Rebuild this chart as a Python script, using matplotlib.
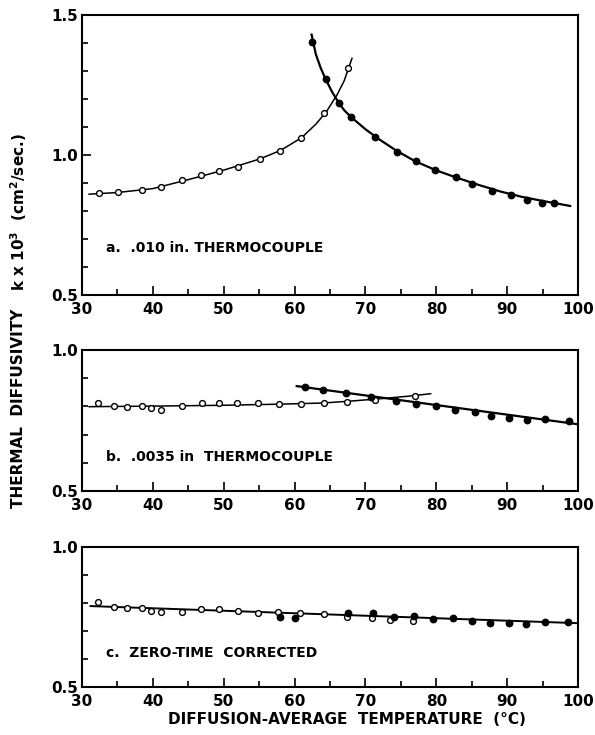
import matplotlib
matplotlib.use("Agg")
import matplotlib.pyplot as plt
from matplotlib.ticker import MultipleLocator

plt.rcParams['font.family'] = ['DejaVu Sans']
plt.rcParams['font.weight'] = 'bold'

# ---- panel a: .010 in thermocouple ----
a_open_x = [32.4, 35.1, 38.5, 41.2, 44.1, 46.8, 49.3, 52.0, 55.1, 57.9, 60.9, 64.1, 67.6]
a_open_y = [0.863, 0.868, 0.875, 0.886, 0.910, 0.929, 0.944, 0.958, 0.986, 1.015, 1.060, 1.149, 1.310]
a_fill_x = [62.5, 64.4, 66.2, 68.0, 71.3, 74.4, 77.1, 79.8, 82.8, 85.1, 87.9, 90.6, 92.8, 94.9, 96.6]
a_fill_y = [1.405, 1.271, 1.185, 1.137, 1.063, 1.012, 0.977, 0.946, 0.923, 0.896, 0.871, 0.856, 0.839, 0.827, 0.827]
# fitted curves
a_open_fit_x = [31.0, 35, 40, 45, 50, 55, 58, 61, 63, 64.5, 66, 67, 68.1]
a_open_fit_y = [0.860, 0.866, 0.880, 0.912, 0.946, 0.985, 1.016, 1.062, 1.110, 1.155, 1.215, 1.265, 1.345]
a_fill_fit_x = [62.4, 63, 63.7, 64.4, 65.3, 66.2, 67, 68, 70, 72, 74.4, 77, 80, 83, 86, 89, 92, 95, 98.9]
a_fill_fit_y = [1.43, 1.36, 1.31, 1.27, 1.225, 1.188, 1.16, 1.135, 1.092, 1.055, 1.015, 0.978, 0.945,
                0.918, 0.893, 0.870, 0.851, 0.836, 0.818]

# ---- panel b: .0035 in thermocouple ----
b_open_x = [32.2, 34.5, 36.4, 38.5, 39.8, 41.2, 44.1, 46.9, 49.4, 51.9, 54.8, 57.8, 60.9, 64.1, 67.4, 71.4, 77.0]
b_open_y = [0.811, 0.802, 0.798, 0.802, 0.793, 0.788, 0.802, 0.811, 0.811, 0.811, 0.811, 0.809, 0.807,
            0.811, 0.817, 0.822, 0.836]
b_fill_x = [61.5, 64.0, 67.2, 70.8, 74.3, 77.2, 79.9, 82.7, 85.4, 87.7, 90.3, 92.8, 95.4, 98.7]
b_fill_y = [0.868, 0.858, 0.848, 0.834, 0.820, 0.810, 0.800, 0.789, 0.781, 0.765, 0.760, 0.751, 0.756, 0.748]
b_open_fit_x = [31, 40, 50, 58, 64, 68, 72, 76, 79.2]
b_open_fit_y = [0.799, 0.801, 0.804, 0.808, 0.812, 0.819, 0.827, 0.836, 0.845]
b_fill_fit_x = [60.3, 99.9]
b_fill_fit_y = [0.872, 0.737]

# ---- panel c: zero-time corrected ----
c_open_x = [32.2, 34.5, 36.4, 38.5, 39.8, 41.2, 44.1, 46.8, 49.4, 52.0, 54.8, 57.6, 60.7, 64.1, 67.4, 70.9, 73.4, 76.7]
c_open_y = [0.805, 0.785, 0.781, 0.781, 0.773, 0.768, 0.768, 0.778, 0.778, 0.773, 0.763, 0.768, 0.763,
            0.761, 0.749, 0.745, 0.739, 0.736]
c_fill_x = [58.0, 60.1, 67.6, 71.0, 74.1, 76.9, 79.6, 82.4, 85.1, 87.6, 90.2, 92.7, 95.4, 98.6]
c_fill_y = [0.751, 0.748, 0.763, 0.763, 0.751, 0.754, 0.742, 0.745, 0.737, 0.728, 0.728, 0.724, 0.731, 0.731]
c_fit_x = [31.2, 99.9]
c_fit_y = [0.789, 0.728]

panel_labels = ["a.  .010 in. THERMOCOUPLE",
                "b.  .0035 in  THERMOCOUPLE",
                "c.  ZERO-TIME  CORRECTED"]
x_ticks = [30, 40, 50, 60, 70, 80, 90, 100]

fig = plt.figure(figsize=(5.95, 7.35), dpi=100)
W, H = 595.0, 735.0
left, right = 82 / W, 578 / W


def make_ax(top_px, bot_px):
    return fig.add_axes([left, 1 - bot_px / H, right - left, (bot_px - top_px) / H])


ax_a = make_ax(15, 295)
ax_b = make_ax(350, 491)
ax_c = make_ax(547, 687)

for ax in (ax_a, ax_b, ax_c):
    ax.set_xlim(30, 100)
    ax.set_xticks(x_ticks)
    ax.xaxis.set_minor_locator(MultipleLocator(5))
    ax.yaxis.set_minor_locator(MultipleLocator(0.1))
    ax.tick_params(which='both', direction='in', top=False, right=False, labelsize=11, width=1.2)
    ax.tick_params(which='major', length=6.5)
    ax.tick_params(which='minor', length=4)
    ax.tick_params(axis='x', pad=5)
    ax.tick_params(axis='y', pad=3)
    for sp in ax.spines.values():
        sp.set_linewidth(1.5)
    for lab in ax.get_xticklabels() + ax.get_yticklabels():
        lab.set_fontweight('bold')

ax_a.set_ylim(0.5, 1.5)
ax_a.set_yticks([0.5, 1.0, 1.5])
ax_b.set_ylim(0.5, 1.0)
ax_b.set_yticks([0.5, 1.0])
ax_c.set_ylim(0.5, 1.0)
ax_c.set_yticks([0.5, 1.0])
for ax in (ax_a, ax_b, ax_c):
    ax.set_yticklabels([f"{v:.1f}" for v in ax.get_yticks()], fontweight='bold')

open_kw = dict(ls='none', marker='o', ms=4.2, mfc='white', mec='black', mew=1.0, zorder=4)
fill_kw = dict(ls='none', marker='o', ms=4.6, mfc='black', mec='black', zorder=5)

# panel a
ax_a.plot(a_open_fit_x, a_open_fit_y, color='black', lw=1.1, zorder=2)
ax_a.plot(a_fill_fit_x, a_fill_fit_y, color='black', lw=1.6, zorder=2)
ax_a.plot(a_open_x, a_open_y, **open_kw)
ax_a.plot(a_fill_x, a_fill_y, **fill_kw)

# panel b
ax_b.plot(b_open_fit_x, b_open_fit_y, color='black', lw=1.1, zorder=2)
ax_b.plot(b_fill_fit_x, b_fill_fit_y, color='black', lw=1.6, zorder=2)
ax_b.plot(b_open_x, b_open_y, **open_kw)
ax_b.plot(b_fill_x, b_fill_y, **fill_kw)

# panel c
ax_c.plot(c_fit_x, c_fit_y, color='black', lw=1.4, zorder=2)
ax_c.plot(c_open_x, c_open_y, **open_kw)
ax_c.plot(c_fill_x, c_fill_y, **fill_kw)

ax_a.text(33.4, 0.668, panel_labels[0], fontsize=10, fontweight='bold', va='center')
ax_b.text(33.4, 0.622, panel_labels[1], fontsize=10, fontweight='bold', va='center')
ax_c.text(33.4, 0.621, panel_labels[2], fontsize=10, fontweight='bold', va='center')

fig.text(347 / W, 1 - 719 / H, "DIFFUSION-AVERAGE  TEMPERATURE  (°C)",
         fontsize=11, fontweight='bold', ha='center', va='center')
fig.text(19 / W, 1 - 408 / H, "THERMAL  DIFFUSIVITY", rotation=90,
         fontsize=11, fontweight='bold', ha='center', va='center')
fig.text(19 / W, 1 - 212 / H, r"k x 10$^{\mathbf{3}}$  (cm$^{\mathbf{2}}$/sec.)", rotation=90,
         fontsize=11, fontweight='bold', ha='center', va='center')

fig.savefig("out.png", dpi=100)
